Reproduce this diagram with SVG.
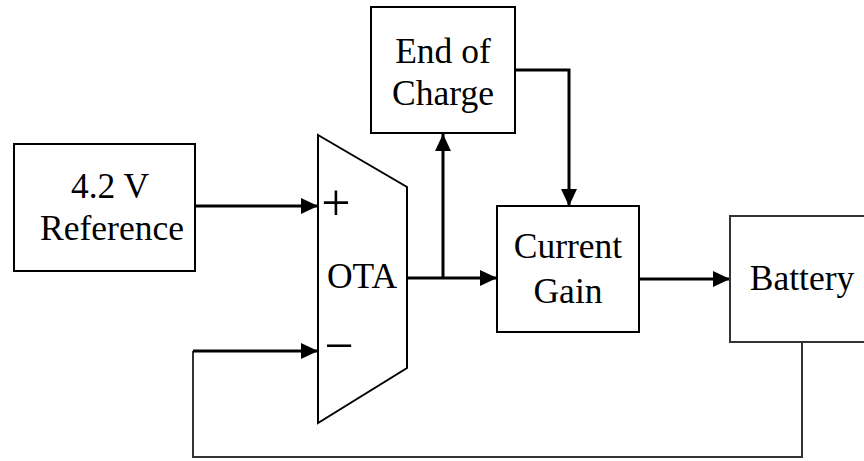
<svg xmlns="http://www.w3.org/2000/svg" width="864" height="461" viewBox="0 0 864 461">
  <defs>
    <marker id="arrow" viewBox="0 0 17 16" refX="17" refY="8" markerWidth="17" markerHeight="16" markerUnits="userSpaceOnUse" orient="auto">
      <path d="M0,0 L17,8 L0,16 Z" fill="#000"/>
    </marker>
    <style>
      .box { fill: #fff; stroke: #000; stroke-width: 2; }
      .wire { fill: none; stroke: #000; stroke-width: 3; }
      .thin { fill: none; stroke: #333; stroke-width: 2; }
      .lbl { font-family: "Liberation Serif", "Times New Roman", serif; font-size: 35.5px; fill: #000; text-anchor: middle; }
      .sign { font-family: "Liberation Serif", "Times New Roman", serif; font-size: 52px; fill: #000; text-anchor: middle; }
    </style>
  </defs>
  <rect width="864" height="461" fill="#fff"/>

  <g id="connectors">
    <line class="wire" x1="195" y1="206" x2="318" y2="206" marker-end="url(#arrow)"/>
    <polyline class="wire" points="407,278 497,278" marker-end="url(#arrow)"/>
    <polyline class="wire" points="443,278 443,134" marker-end="url(#arrow)"/>
    <polyline class="wire" points="515,70 569,70 569,206" marker-end="url(#arrow)"/>
    <line class="wire" x1="639" y1="279" x2="730" y2="279" marker-end="url(#arrow)"/>
    <polyline class="thin" points="802,342 802,457 193,457 193,351"/>
    <line class="wire" x1="193" y1="351" x2="318" y2="351" marker-end="url(#arrow)"/>
  </g>

  <g id="reference">
    <rect class="box" x="14" y="144" width="181" height="127"/>
    <text class="lbl" x="110" y="198">4.2 V</text>
    <text class="lbl" x="112" y="240">Reference</text>
  </g>

  <g id="ota">
    <polygon class="box" points="318,135 407,187 407,368 318,423"/>
    <text class="sign" x="336" y="220">+</text>
    <text class="sign" x="339" y="363">−</text>
    <text class="lbl" x="362" y="288">OTA</text>
  </g>

  <g id="end-of-charge">
    <rect class="box" x="371" y="7" width="144" height="126"/>
    <text class="lbl" x="443" y="63">End of</text>
    <text class="lbl" x="443" y="105">Charge</text>
  </g>

  <g id="current-gain">
    <rect class="box" x="497" y="206" width="142" height="126"/>
    <text class="lbl" x="568" y="258">Current</text>
    <text class="lbl" x="568" y="303">Gain</text>
  </g>

  <g id="battery">
    <rect class="thin" x="730" y="216" width="140" height="126" style="fill:#fff"/>
    <text class="lbl" x="802" y="290">Battery</text>
  </g>
</svg>
